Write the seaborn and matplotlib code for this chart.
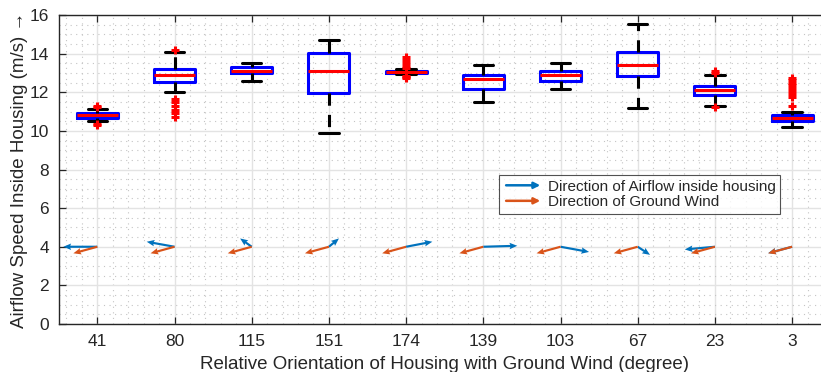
import numpy as np
import pandas as pd
import matplotlib
matplotlib.use("Agg")
import matplotlib.pyplot as plt
import seaborn as sns
from matplotlib.ticker import MultipleLocator
from matplotlib.legend_handler import HandlerBase
from matplotlib.patches import FancyArrowPatch
from matplotlib.lines import Line2D

# ---- data ----
categories = ["41", "80", "115", "151", "174", "139", "103", "67", "23", "3"]
q1 = [10.68, 12.54, 13.00, 11.94, 12.98, 12.17, 12.56, 12.82, 11.87, 10.49]
median = [10.80, 12.91, 13.11, 13.10, 13.06, 12.70, 12.89, 13.39, 12.10, 10.68]
q3 = [10.91, 13.18, 13.30, 14.01, 13.12, 12.91, 13.10, 14.10, 12.30, 10.80]
whis_lo = [10.49, 12.00, 12.60, 9.89, 12.92, 11.48, 12.18, 11.20, 11.28, 10.20]
whis_hi = [11.13, 14.10, 13.53, 14.69, 13.20, 13.39, 13.51, 15.52, 12.89, 10.99]
outliers = [
    [11.22, 11.30, 10.30, 10.38],
    [14.20, 11.65, 11.50, 11.30, 11.10, 10.90, 10.70],
    [],
    [],
    [13.80, 13.65, 13.50, 13.38, 13.28, 12.85, 12.80, 12.75],
    [],
    [],
    [],
    [13.10, 13.00, 11.22],
    [11.28, 11.75, 11.90, 12.05, 12.20, 12.35, 12.50, 12.65, 12.72],
]
arrow_base = [4, 4, 4, 4, 4, 4, 4, 4, 4, 4]
airflow_u = [-0.44, -0.36, -0.15, 0.13, 0.34, 0.44, 0.37, 0.16, -0.39, -0.31]
airflow_v = [0.00, 0.26, 0.43, 0.43, 0.26, 0.05, -0.27, -0.42, -0.14, -0.33]
wind_u = [-0.31, -0.31, -0.31, -0.31, -0.31, -0.31, -0.31, -0.31, -0.31, -0.31]
wind_v = [-0.34, -0.34, -0.34, -0.34, -0.34, -0.34, -0.34, -0.34, -0.34, -0.34]

sns.set_theme(style="white")
plt.rcParams["font.family"] = ["Liberation Sans", "DejaVu Sans"]

fig = plt.figure(figsize=(8.21, 3.72), dpi=100)
ax = fig.add_axes([58.7 / 821, 1 - 324 / 372, 772 / 821, 309 / 372])

pos = np.arange(len(categories))

# grids
ax.set_axisbelow(True)
ax.xaxis.set_minor_locator(MultipleLocator(0.2))
ax.yaxis.set_minor_locator(MultipleLocator(0.5))
ax.grid(which="major", color="#e3e3e3", lw=1.0, ls="-")
ax.grid(which="minor", color="#c4c4c4", lw=0.8, ls=(0, (1, 4)))

stats = []
for i in range(len(categories)):
    stats.append(dict(med=median[i], q1=q1[i], q3=q3[i], whislo=whis_lo[i],
                      whishi=whis_hi[i], fliers=[]))
ax.bxp(stats, positions=pos, widths=0.53, capwidths=0.25, showfliers=False,
       boxprops=dict(color="#0000ff", lw=2.2),
       medianprops=dict(color="#ff0000", lw=2.2),
       whiskerprops=dict(color="black", lw=2.2, ls=(0, (4, 3))),
       capprops=dict(color="black", lw=2.2), manage_ticks=False, zorder=3)

# outliers
ox, oy = [], []
for i, vals in enumerate(outliers):
    for v in vals:
        ox.append(pos[i]); oy.append(v)
df_out = pd.DataFrame({"x": ox, "y": oy})
sns.scatterplot(data=df_out, x="x", y="y", marker="+", s=30, color="#ff0000",
                linewidth=2.2, ax=ax, zorder=4, legend=False)

# direction arrows
ax.quiver(pos, arrow_base, airflow_u, airflow_v, angles="xy", scale_units="xy",
          scale=1, color="#0072BD", width=0.0028, headwidth=3.0, headlength=3.6,
          headaxislength=3.2, zorder=5)
ax.quiver(pos, arrow_base, wind_u, wind_v, angles="xy", scale_units="xy",
          scale=1, color="#D95319", width=0.0028, headwidth=3.0, headlength=3.6,
          headaxislength=3.2, zorder=6)


class HandlerArrow(HandlerBase):
    def create_artists(self, legend, orig_handle, xdescent, ydescent, width,
                       height, fontsize, trans):
        y = height / 2 - ydescent
        p = FancyArrowPatch((-xdescent, y), (width - xdescent, y),
                            arrowstyle="-|>", mutation_scale=9,
                            color=orig_handle.get_color(), lw=1.8,
                            transform=trans)
        return [p]


h1 = Line2D([], [], color="#0072BD")
h2 = Line2D([], [], color="#D95319")
leg = ax.legend([h1, h2], ["Direction of Airflow inside housing", "Direction of Ground Wind"],
                handler_map={h1: HandlerArrow(), h2: HandlerArrow()},
                loc="upper left", bbox_to_anchor=(0.570, 0.482), borderaxespad=0,
                fontsize=11, handlelength=2.6, handletextpad=0.3, borderpad=0.3,
                labelspacing=0.1, frameon=True, fancybox=False)
leg.get_frame().set_edgecolor("#262626")
leg.get_frame().set_linewidth(0.8)

ax.set_xlim(-0.5, 9.5)
ax.set_ylim(0, 16)
ax.set_xticks(pos)
ax.set_xticklabels(categories)
ax.set_yticks(np.arange(0, 17, 2))
ax.tick_params(which="major", direction="in", length=5, width=0.9, top=True,
               bottom=True, left=True, right=False, labelsize=12.5, colors="#262626",
               pad=7)
ax.tick_params(which="minor", length=0)
for s in ["left", "top", "bottom"]:
    ax.spines[s].set_color("#262626")
    ax.spines[s].set_linewidth(1.0)
ax.spines["right"].set_visible(False)

ax.set_xlabel("Relative Orientation of Housing with Ground Wind (degree)", fontsize=13.5,
              color="#262626", labelpad=5)
ax.set_ylabel("Airflow Speed Inside Housing (m/s) \u2192", fontsize=13.5,
              color="#262626", labelpad=1)

fig.savefig("out.png", dpi=100)
